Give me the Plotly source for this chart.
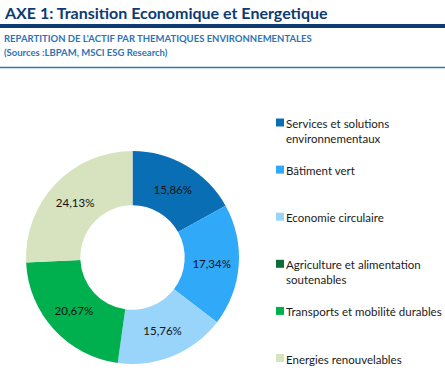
import plotly.graph_objects as go

categories = [
    "Services et solutions<br>environnementaux",
    "Bâtiment vert",
    "Economie circulaire",
    "Agriculture et alimentation<br>soutenables",
    "Transports et mobilité durables",
    "Energies renouvelables",
]
values = [15.86, 17.34, 15.76, 0.0, 20.67, 24.13]
value_labels = ["15,86%", "17,34%", "15,76%", "", "20,67%", "24,13%"]
colors = ["#0A6EB4", "#30A9F8", "#99D4FA", "#0E6B3A", "#00B04F", "#D7E3BF"]

W, H = 445, 372
FONT = "Lato, Open Sans, sans-serif"

fig = go.Figure(go.Pie(
    labels=categories,
    values=values,
    text=value_labels,
    texttemplate="%{text}",
    textposition="inside",
    insidetextorientation="horizontal",
    textfont=dict(family=FONT, size=11.5, color="#111111"),
    marker=dict(colors=colors, line=dict(width=0)),
    hole=0.49,
    sort=False,
    direction="clockwise",
    rotation=0,
    domain=dict(x=[26 / W, 239 / W], y=[1 - 364 / H, 1 - 151 / H]),
    hoverinfo="label+text",
    showlegend=False,
))

shapes = [
    dict(type="line", xref="paper", yref="paper", x0=0, x1=1,
         y0=1 - 26 / H, y1=1 - 26 / H, line=dict(color="#0D3B72", width=4)),
    dict(type="line", xref="paper", yref="paper", x0=0, x1=1,
         y0=1 - 67.5 / H, y1=1 - 67.5 / H, line=dict(color="#3673AF", width=1.5)),
]
annotations = [
    dict(text="<b>AXE 1: Transition Economique et Energetique</b>", xref="paper", yref="paper",
         x=2 / W, y=1 - 12.5 / H, xanchor="left", yanchor="middle", showarrow=False,
         font=dict(family=FONT, size=16, color="#0D3B72")),
    dict(text="<b>REPARTITION DE L'ACTIF PAR THEMATIQUES ENVIRONNEMENTALES</b>", xref="paper", yref="paper",
         x=2 / W, y=1 - 38 / H, xanchor="left", yanchor="middle", showarrow=False,
         font=dict(family=FONT, size=9.5, color="#2E74B5")),
    dict(text="<b>(Sources :LBPAM, MSCI ESG Research)</b>", xref="paper", yref="paper",
         x=2 / W, y=1 - 53 / H, xanchor="left", yanchor="middle", showarrow=False,
         font=dict(family=FONT, size=9.5, color="#2E74B5")),
]

# manual legend built from categories / colors (evenly spaced like the reference)
first_y = 122.5
step = 47.1
for i, (cat, col) in enumerate(zip(categories, colors)):
    yc = first_y + i * step
    shapes.append(dict(type="rect", xref="paper", yref="paper",
                       x0=276 / W, x1=284 / W, y0=1 - (yc + 4) / H, y1=1 - (yc - 4) / H,
                       fillcolor=col, line=dict(width=0)))
    annotations.append(dict(text=cat, xref="paper", yref="paper",
                            x=283.5 / W, y=1 - (yc - 7.5) / H, xanchor="left", yanchor="top",
                            align="left", showarrow=False,
                            font=dict(family=FONT, size=11.5, color="#1a1a1a")))

fig.update_layout(
    width=W, height=H,
    margin=dict(l=0, r=0, t=0, b=0),
    paper_bgcolor="white",
    plot_bgcolor="white",
    showlegend=False,
    shapes=shapes,
    annotations=annotations,
)

fig.write_html("out.html", config={"displayModeBar": False},
               post_script="document.body.style.margin='0px';")
